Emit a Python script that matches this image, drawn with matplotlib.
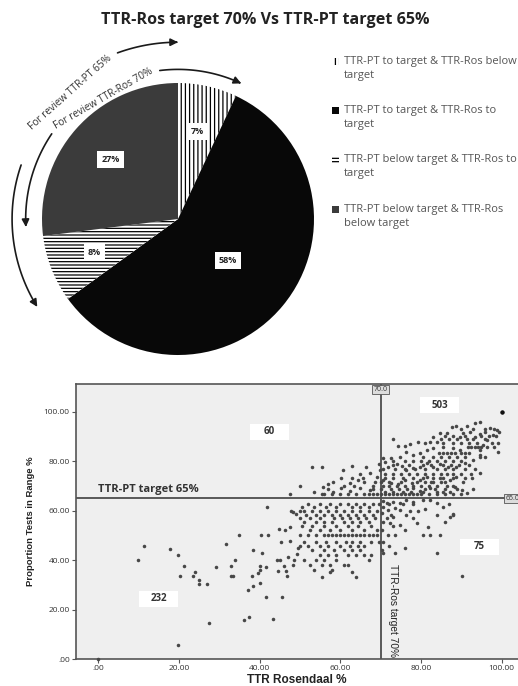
import numpy as np
import matplotlib.pyplot as plt
from matplotlib.patches import FancyArrowPatch, Rectangle
from matplotlib.path import Path
from matplotlib.legend_handler import HandlerPatch

plt.rcParams['font.family'] = ['Open Sans', 'DejaVu Sans']
plt.rcParams['hatch.linewidth'] = 0.9

# ---- pie data
title = 'TTR-Ros target 70% Vs TTR-PT target 65%'
slice_labels = ['TTR-PT to target & TTR-Ros below\ntarget',
                'TTR-PT to target & TTR-Ros to\ntarget',
                'TTR-PT below target & TTR-Ros to\ntarget',
                'TTR-PT below target & TTR-Ros\nbelow target']
slice_pct = [7, 58, 8, 27]
slice_colors = ['white', '#080808', 'white', '#3b3b3b']
slice_hatch = ['||||', '', '-----', '']

# ---- scatter data (TTR Rosendaal %, proportion tests in range %)
single_pts = [
    (0, 0), (9.8, 40.2), (11.3, 45.7), (17.8, 44.6), (19.7, 41.9), (21.3, 37.7),
    (20.3, 33.6), (24.1, 35.2), (23.5, 33.6), (25.0, 31.8), (25.0, 30.2),
    (27.0, 30.2), (27.5, 14.6), (19.7, 5.8), (29.2, 37.1), (31.6, 46.4),
    (32.8, 37.7), (34.0, 40.2), (32.9, 33.6), (33.4, 33.6), (35.0, 50.3),
    (38.3, 44.2), (37.1, 27.9), (38.4, 29.6), (36.1, 15.8), (37.3, 16.9),
    (38.0, 33.6), (39.5, 34.7), (40.1, 36.0), (40.1, 37.7), (40.7, 43.0),
    (40.2, 30.9), (41.6, 25.2), (40.3, 50.3), (42.2, 50.3), (41.8, 61.6),
    (41.5, 37.3), (43.2, 16.0), (45.5, 25.2), (44.9, 52.6), (46.4, 52.2),
    (45.2, 47.2), (47.5, 47.8), (47.5, 53.5), (44.2, 40.2), (45.0, 40.2),
    (44.5, 35.6), (46.1, 37.7), (46.5, 35.6), (46.7, 33.6), (47.0, 41.2),
    (48.5, 40.0), (48.4, 37.9), (49.2, 42.5), (49.4, 44.8), (47.8, 60.0),
    (48.4, 59.6), (49.0, 58.6),
    # upper left
    (50.0, 70.1), (52.9, 77.8), (55.4, 77.8), (55.8, 69.7), (57.0, 70.8),
    (58.3, 71.7), (58.3, 67.7), (60.3, 73.0), (60.3, 69.0), (60.7, 76.4),
    (62.4, 71.3), (62.4, 68.1), (62.8, 78.0), (64.5, 72.4), (64.9, 69.0),
    (65.7, 73.0), (66.5, 77.8), (67.4, 75.1), (67.4, 68.3), (69.0, 73.7),
    (69.8, 76.4), (69.5, 79.0),
    # upper right
    (100, 100), (94.6, 96.0), (93.4, 95.3), (91.3, 94.3), (88.7, 94.3),
    (87.8, 93.9), (97.1, 93.3), (98.8, 92.6), (99.3, 91.9), (97.9, 90.6),
    (95.9, 91.9), (94.6, 91.0), (93.4, 89.9), (92.1, 91.9), (90.5, 91.2),
    (89.7, 89.9), (86.4, 91.5), (84.7, 91.2), (83.1, 89.9), (82.2, 87.9),
    (83.9, 87.9), (81.0, 87.5), (79.3, 87.9), (77.3, 86.8), (76.0, 86.1),
    (73.0, 88.9), (74.4, 86.1), (96.3, 88.5), (97.5, 87.2), (95.4, 86.5),
    (99.0, 83.6), (94.6, 84.5), (94.6, 82.5), (89.7, 84.5), (88.0, 85.2),
    (85.5, 85.6), (83.1, 85.2), (81.4, 84.5), (79.8, 83.2), (78.1, 82.5),
    (76.4, 83.8), (74.8, 81.8), (72.7, 81.1), (70.7, 81.4), (71.1, 79.8),
    (74.0, 78.8), (93.0, 80.5), (94.6, 81.8), (90.9, 79.1), (88.8, 77.8),
    (86.8, 77.8), (84.7, 78.8), (83.1, 77.8), (81.4, 79.1), (79.8, 77.8),
    (78.1, 77.1), (76.4, 76.4), (75.2, 78.0), (71.9, 77.8), (94.6, 75.1),
    (92.6, 73.0), (90.5, 71.7), (88.8, 73.7), (87.2, 72.4), (84.7, 73.0),
    (83.1, 71.7), (81.4, 73.5), (79.8, 72.4), (77.7, 71.3), (76.0, 72.4),
    (74.4, 70.8), (72.7, 71.3), (70.7, 72.4), (88.4, 69.7), (90.1, 68.3),
    (91.3, 67.0), (87.2, 67.7), (82.2, 69.0), (79.8, 68.1), (78.1, 69.0),
    # lower right
    (82.2, 64.3), (80.6, 64.3), (78.1, 63.6), (76.4, 64.3), (74.8, 63.2),
    (73.1, 63.6), (71.5, 62.9), (70.7, 61.6), (71.9, 60.2), (73.6, 60.9),
    (74.8, 60.2), (77.3, 60.0), (79.3, 60.0), (81.0, 60.5), (85.5, 61.6),
    (83.9, 62.9), (87.2, 57.5), (86.0, 55.5), (79.0, 55.1), (81.8, 53.5),
    (76.4, 58.2), (73.1, 57.5), (74.8, 54.2), (71.5, 56.9), (72.3, 54.9),
    (76.0, 44.7), (73.6, 43.0), (70.5, 43.0), (83.9, 43.0), (90.1, 33.6),
    (70.5, 64.0), (70.3, 59.0), (88.0, 58.5),
]

# many patients share the same proportion -> rows of dots
row_pts = {
    92.9: [90, 93, 96, 98],
    90.0: [86, 88, 91, 95, 97, 98.5],
    88.9: [85, 87, 89, 91.5, 93, 96],
    87.5: [85.5, 88, 90, 92, 94, 99],
    85.7: [91.7, 92.5, 93.4, 94.2, 95.0, 96.5, 98],
    83.3: [84.5, 85.5, 86.5, 87.5, 88.5, 90, 91, 92],
    81.8: [80.5, 83, 85, 87, 89, 91, 96],
    80.0: [73, 76, 78, 80, 82, 84, 86, 88, 90],
    78.6: [73, 77, 80.5, 82.5, 85.5, 87.5, 89.5, 92],
    76.9: [70.5, 73.5, 76, 78.5, 81, 84, 86, 88, 91, 93.5],
    75.0: [65, 71, 73, 75, 77, 79, 81, 83, 85, 86.5, 88, 90, 92.5],
    73.3: [63, 71, 73, 75.5, 78, 80.5, 83, 85.5, 88, 91],
    71.4: [66, 68.5, 70, 72, 75, 79, 81, 82.5, 85, 86],
    70.0: [61, 63.5, 68, 70.5, 72, 74, 76, 78, 80, 82, 84, 86.5, 88],
    68.8: [57, 68, 70, 72.5, 74.5, 76.5, 81, 83.5, 86, 89, 93],
    67.5: [53.5, 71, 73, 75.5, 77.5, 80.5, 84, 85.5],
    66.7: [47.5, 55.4, 56, 58, 60, 62, 64, 66, 67, 68, 69, 70, 71, 72, 73, 74,
           75, 76, 77, 78, 79, 80, 82, 84, 86, 88, 90],
    62.5: [52, 55, 57.5, 60, 62, 64, 66, 68, 69.5, 72, 75.5, 78, 87],
    61.5: [50.5, 53.5, 56.5, 59, 63, 65, 67],
    60.0: [50, 51, 53, 55, 57, 59, 61, 63, 65, 67, 69],
    58.3: [51.5, 54, 56, 58, 60, 62, 64, 66, 68, 72.5, 84, 88],
    57.1: [50, 52.5, 55, 58.5, 60.5, 62.5, 64.5, 66.5, 68.5, 78],
    55.5: [51, 54, 56, 58, 61, 63, 65, 67, 70.5],
    53.8: [50.5, 53, 56, 59, 62, 64.5, 67.5, 73],
    52.0: [52.5, 55, 57.5, 60, 63, 66, 69, 70.4, 76],
    50.0: [50, 52, 54, 56, 57, 58, 59, 60, 61, 62, 63, 64, 65, 66, 67, 68, 69,
           71.9, 73.6, 80.6, 82.2, 84.7],
    47.5: [51, 54, 56.5, 59, 61.5, 63, 65, 67.5, 69.5, 70.6],
    45.5: [50, 52, 55, 57, 60, 62.5, 64.5, 66, 72],
    44.0: [53, 56, 58.5, 61, 63, 65, 70.4],
    42.0: [55, 57, 59, 62, 64, 66, 67.5],
    40.0: [51, 54, 56, 59, 67],
    38.0: [52.5, 55.5, 57.5, 61, 62],
    36.0: [53.5, 58],
    35.0: [57.5, 63],
    33.3: [55.5, 64],
}

quad_counts = ['503', '60', '75', '232']
quad_centers = [(84.6, 102.6), (42.4, 91.8), (94.5, 45.3), (15.0, 24.3)]
ros_target, pt_target = 70, 65

W, H = 518, 686
fig = plt.figure(figsize=(W / 100, H / 100), dpi=100)

# ---------------- pie
cx, cy, half, rpx = 178, 219, 200, 136
ax_pie = fig.add_axes([(cx - half) / W, 1 - (cy + half) / H, 2 * half / W, 2 * half / H])

wedges, _, autotexts = ax_pie.pie(
    slice_pct, colors=slice_colors, hatch=slice_hatch, startangle=90,
    counterclock=False, radius=1, autopct=lambda p: f'{p:.0f}%', pctdistance=0.66,
    wedgeprops=dict(linewidth=0, edgecolor='black'),
    textprops=dict(fontsize=6.5, fontweight='bold', color='#222'))
# pie() resets the limits, so set them afterwards
ax_pie.set_xlim(-half / rpx, half / rpx)
ax_pie.set_ylim(-half / rpx, half / rpx)
ax_pie.axis('off')
for t in autotexts:
    t.set_bbox(dict(boxstyle='square,pad=0.45', fc='white', ec='none'))
x58, y58 = autotexts[1].get_position()
autotexts[1].set_position((x58 * 0.72, y58 * 0.72))


def arc_arrow(r, a0, a1):
    t = np.radians(np.linspace(a0, a1, 60))
    p = Path(np.column_stack([r * np.cos(t), r * np.sin(t)]))
    ax_pie.add_patch(FancyArrowPatch(path=p, arrowstyle='-|>', mutation_scale=11,
                                     lw=1.2, color='#1a1a1a', clip_on=False))


# outer: PT below target, inner: Ros below target
arc_arrow(1.22, 161, 212)
arc_arrow(1.30, 110, 90)
arc_arrow(1.12, 146, 183)
arc_arrow(1.10, 97, 65)

for r, ang, rot, s in [(1.22, 130.6, 41.6, 'For review TTR-PT 65%'),
                       (1.04, 121.8, 30.0, 'For review TTR-Ros 70%')]:
    a = np.radians(ang)
    ax_pie.text(r * np.cos(a), r * np.sin(a), s, rotation=rot, rotation_mode='anchor',
                ha='center', va='center', fontsize=7.3, color='#333')

fig.text(265 / W, 1 - 20 / H, title, ha='center', va='center', fontsize=11.6,
         fontweight='bold', color='#222')


def top_patch(legend, orig_handle, xdescent, ydescent, width, height, fontsize):
    # put the key next to the first line of the two-line label
    return Rectangle((-xdescent, -ydescent + 0.62 * fontsize), width, height)


leg = fig.legend(wedges, slice_labels, loc='upper left', bbox_to_anchor=(322 / W, 1 - 46 / H),
                 frameon=False, fontsize=8, handlelength=0.6, handleheight=0.6,
                 handletextpad=0.5, labelspacing=2.2, labelcolor='#555',
                 handler_map={w: HandlerPatch(patch_func=top_patch) for w in wedges})
for t in leg.get_texts():
    t.set_linespacing(1.35)

# ---------------- scatter
ax = fig.add_axes([76 / W, 27 / H, (W - 76) / W, 275 / H])
ax.set_facecolor('#efefef')
xs = [p[0] for p in single_pts]
ys = [p[1] for p in single_pts]
for yv, xl in row_pts.items():
    xs += xl
    ys += [yv] * len(xl)
ax.scatter(xs, ys, s=6.5, color='#474747', linewidths=0, zorder=3, clip_on=False)
ax.scatter([100], [100], s=10, color='#111', linewidths=0, zorder=4)

ax.set_xlim(-5.53, 104.07)
ax.set_ylim(0, 111.2)
ax.axhline(pt_target, color='#4d4d4d', lw=1.3, zorder=2)
ax.axvline(ros_target, color='#4d4d4d', lw=1.3, zorder=2)

box = dict(boxstyle='square,pad=0.15', fc='#dcdcdc', ec='#555', lw=0.6)
ax.text(ros_target, 108.9, f'{ros_target:.1f}', ha='center', va='center', fontsize=5,
        color='#333', bbox=box)
ax.text(100.9, pt_target, f'{pt_target:.1f}', ha='left', va='center', fontsize=5,
        color='#333', bbox=box, clip_on=False)

for s, (qx, qy) in zip(quad_counts, quad_centers):
    ax.add_patch(Rectangle((qx - 4.85, qy - 3.25), 9.7, 6.5, fc='white', ec='none', zorder=4))
    ax.text(qx, qy, s, ha='center', va='center', fontsize=7, fontweight='bold',
            color='#333', zorder=5)

ax.text(0, 68.7, 'TTR-PT target 65%', ha='left', va='center', fontsize=8,
        fontweight='bold', color='#333')
ax.text(73.1, 19.6, 'TTR-Ros target 70%', rotation=-90, ha='center', va='center',
        fontsize=7.3, color='#222', family=['Liberation Sans Narrow', 'Liberation Sans'])

ticks = [0, 20, 40, 60, 80, 100]
ax.set_xticks(ticks)
ax.set_yticks(ticks)
ax.set_xticklabels([f'{v:.2f}'.lstrip('0') for v in ticks])
ax.set_yticklabels([f'{v:.2f}'.lstrip('0') for v in ticks])
ax.tick_params(labelsize=6, labelcolor='#333', length=3, width=0.8, color='#555', pad=1.5)
for side in ['top', 'left', 'bottom']:
    ax.spines[side].set_color('#555')
    ax.spines[side].set_linewidth(1.2)
ax.spines['right'].set_visible(False)

ax.set_xlabel('TTR Rosendaal %', fontsize=8.5, fontweight='bold', color='#222',
              family='Liberation Sans', labelpad=1)
ax.set_ylabel('Proportion Tests in Range %', fontsize=6.8, fontweight='bold', color='#222',
              family=['Liberation Sans Narrow', 'Liberation Sans'], labelpad=6)

fig.savefig('out.png', dpi=100)
